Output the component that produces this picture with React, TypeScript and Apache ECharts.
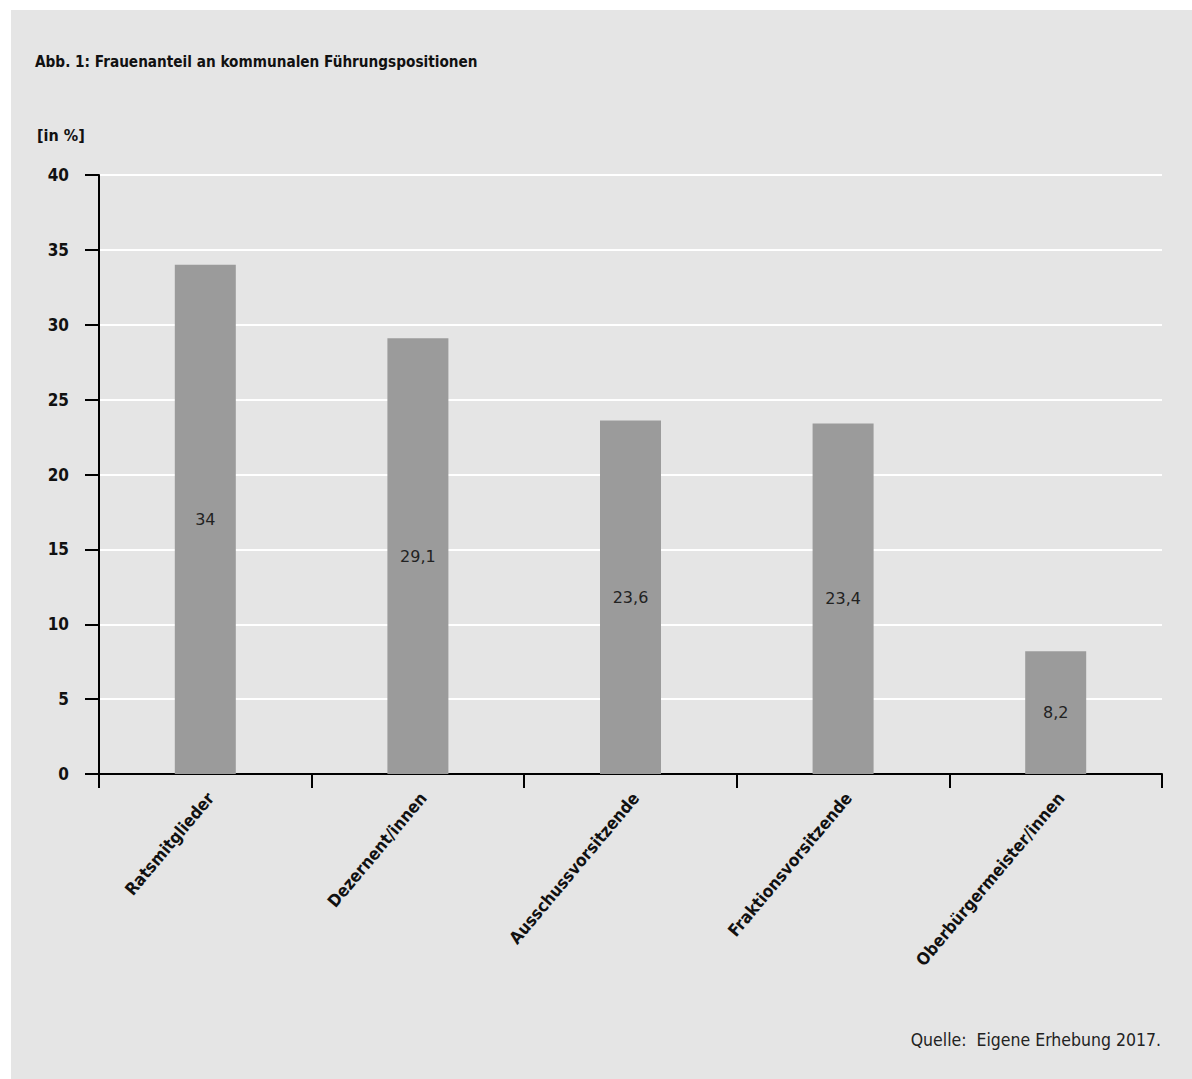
import React, { useEffect, useRef } from "react";
import * as echarts from "echarts";

const categories = [
  "Ratsmitglieder",
  "Dezernent/innen",
  "Ausschussvorsitzende",
  "Fraktionsvorsitzende",
  "Oberbürgermeister/innen",
];
const values = [34, 29.1, 23.6, 23.4, 8.2];
const titleText = "Abb. 1: Frauenanteil an kommunalen Führungspositionen";
const unitText = "[in %]";
const sourceText = "Quelle:  Eigene Erhebung 2017.";

const condFont = "'DejaVu Sans Condensed', 'DejaVu Sans', sans-serif";

export default function App() {
  const ref = useRef<HTMLDivElement>(null);
  useEffect(() => {
    const chart = echarts.init(ref.current!, null, { renderer: "svg" });
    chart.setOption({
      animation: false,
      backgroundColor: "#ffffff",
      graphic: [
        {
          type: "rect",
          left: 11,
          top: 10,
          z: -10,
          shape: { width: 1181, height: 1069 },
          style: { fill: "#e5e5e5" },
        },
        {
          type: "text",
          left: 35,
          top: 54,
          style: {
            text: titleText,
            font: `bold 15.2px ${condFont}`,
            fill: "#111",
          },
        },
        {
          type: "text",
          left: 37,
          top: 127,
          style: {
            text: unitText,
            font: `bold 16px ${condFont}`,
            fill: "#111",
          },
        },
        {
          type: "text",
          right: 31,
          top: 1031,
          style: {
            text: sourceText,
            font: `17.5px ${condFont}`,
            fill: "#222",
          },
        },
      ],
      grid: { left: 99, right: 30, top: 175, bottom: 305 },
      xAxis: {
        type: "category",
        data: categories,
        boundaryGap: true,
        axisLine: { lineStyle: { color: "#000", width: 2 } },
        axisTick: { show: true, length: 14, lineStyle: { color: "#000", width: 2 } },
        axisLabel: {
          rotate: 50,
          margin: 27,
          padding: [0, -8, 7, 0],
          color: "#111",
          fontWeight: "bold",
          fontSize: 17,
          fontFamily: condFont,
        },
        splitLine: { show: false },
      },
      yAxis: {
        type: "value",
        min: 0,
        max: 40,
        interval: 5,
        axisLine: { show: true, lineStyle: { color: "#000", width: 2 } },
        axisTick: { show: true, length: 14, lineStyle: { color: "#000", width: 2 } },
        axisLabel: {
          margin: 30,
          color: "#111",
          fontWeight: "bold",
          fontSize: 17,
          fontFamily: condFont,
        },
        splitLine: { show: true, lineStyle: { color: "#ffffff", width: 2 } },
      },
      series: [
        {
          type: "bar",
          data: values,
          barWidth: 61,
          itemStyle: { color: "#9b9b9b" },
          label: {
            show: true,
            position: "inside",
            color: "#222",
            fontSize: 16,
            fontFamily: "'DejaVu Sans', sans-serif",
            formatter: (p: any) => String(p.value).replace(".", ","),
          },
        },
      ],
    });
    return () => chart.dispose();
  }, []);
  return (
    <div
      ref={ref}
      style={{ position: "absolute", left: 0, top: 0, width: 1192, height: 1079 }}
    />
  );
}
